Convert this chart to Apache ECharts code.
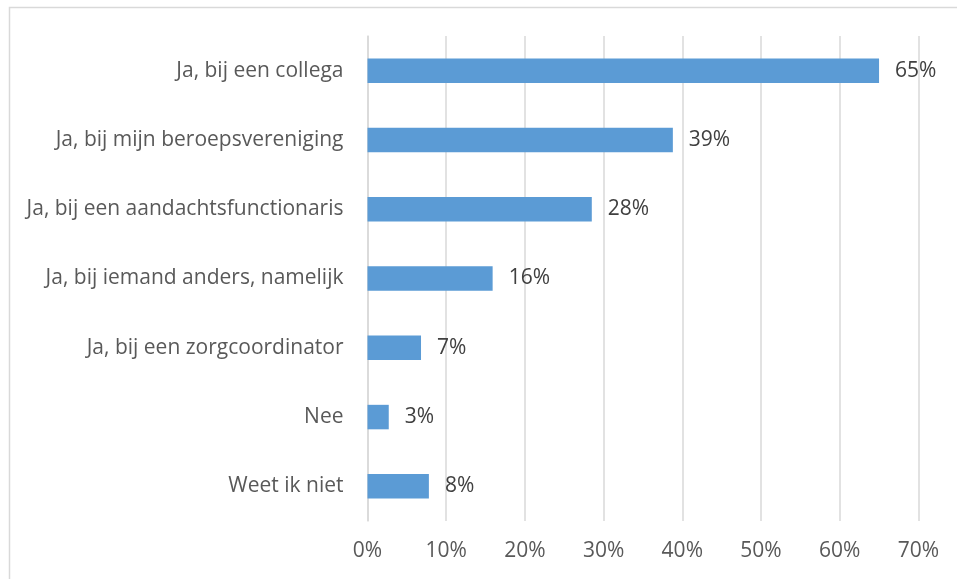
<!DOCTYPE html>
<html>
<head>
<meta charset="utf-8">
<script src="https://cdn.jsdelivr.net/npm/echarts@6/dist/echarts.min.js"></script>
<style>
html,body{margin:0;padding:0;background:#fff;}
#chart{width:957px;height:579px;}
</style>
</head>
<body>
<div id="chart"></div>
<script>
const categories = [
  'Ja, bij een collega',
  'Ja, bij mijn beroepsvereniging',
  'Ja, bij een aandachtsfunctionaris',
  'Ja, bij iemand anders, namelijk',
  'Ja, bij een zorgcoordinator',
  'Nee',
  'Weet ik niet'
];
const values = [65, 38.8, 28.5, 15.9, 6.8, 2.7, 7.8];
const valueLabels = ['65%', '39%', '28%', '16%', '7%', '3%', '8%'];
const xTicks = [0, 10, 20, 30, 40, 50, 60, 70];

const chart = echarts.init(document.getElementById('chart'), null, {renderer: 'canvas'});
const FONT = '"Open Sans", sans-serif';
chart.setOption({
  animation: false,
  backgroundColor: '#ffffff',
  graphic: [{
    type: 'rect',
    shape: {x: 9.5, y: 7.5, width: 1200, height: 1200},
    style: {fill: 'none', stroke: '#d9d9d9', lineWidth: 1.5},
    silent: true,
    z: -10
  }],
  grid: {left: 367.5, right: 38.6, top: 36, bottom: 58, containLabel: false},
  xAxis: {
    type: 'value',
    min: xTicks[0],
    max: xTicks[xTicks.length - 1],
    interval: xTicks[1] - xTicks[0],
    axisLine: {show: false},
    axisTick: {show: false},
    splitLine: {show: true, lineStyle: {color: '#d9d9d9', width: 1.5}},
    axisLabel: {
      formatter: '{value}%',
      color: '#595959',
      fontFamily: FONT,
      fontSize: 21,
      margin: 20
    }
  },
  yAxis: {
    type: 'category',
    data: categories,
    inverse: true,
    axisLine: {show: true, lineStyle: {color: '#d9d9d9', width: 1.5}},
    axisTick: {show: false},
    axisLabel: {
      color: '#595959',
      fontFamily: FONT,
      fontSize: 21,
      margin: 24
    }
  },
  series: [{
    type: 'bar',
    data: values,
    barWidth: 24.5,
    itemStyle: {color: '#5b9bd5'},
    label: {
      show: true,
      position: 'right',
      distance: 16,
      color: '#404040',
      fontFamily: FONT,
      fontSize: 21,
      formatter: p => valueLabels[p.dataIndex]
    }
  }]
});
</script>
</body>
</html>
